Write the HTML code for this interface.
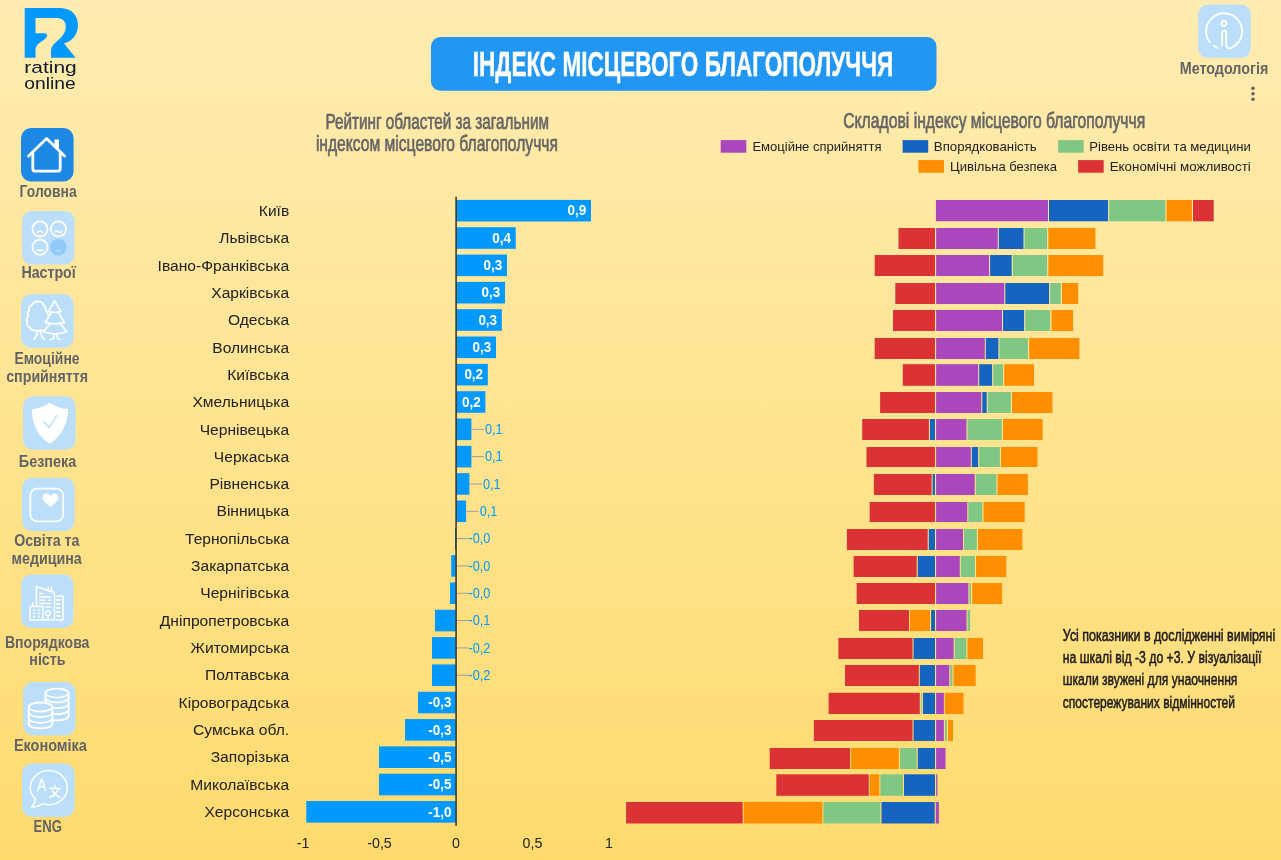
<!DOCTYPE html>
<html lang="uk"><head><meta charset="utf-8"><title>Індекс місцевого благополуччя</title>
<style>html,body{margin:0;padding:0;background:#FFE08A;}body{width:1281px;height:860px;overflow:hidden;}svg{display:block;font-family:'Liberation Sans', sans-serif;}</style>
</head><body>
<svg width="1281" height="860" viewBox="0 0 1281 860">
<defs><linearGradient id="bg" x1="0" y1="0" x2="0" y2="1"><stop offset="0" stop-color="#FFECB2"/><stop offset="1" stop-color="#FFDB6E"/></linearGradient></defs>
<rect width="1281" height="860" fill="url(#bg)"/>
<g id="logo">
<g transform="translate(14,0) scale(0.11628)" fill="#0099FF">
<path d="M92,68 H400 C500,68 550,140 550,215 C550,300 500,355 430,375 L530,497 H318 V440 C318,400 345,375 385,340 C420,310 445,275 445,230 C445,185 420,155 370,155 H185 V285 H262 Q290,287 285,310 Q280,325 255,345 C210,375 185,395 185,430 V497 H92 Z"/>
</g>
<text x="24.3" y="73.2" font-size="16.8" fill="#0d1b2a" textLength="52.4" lengthAdjust="spacingAndGlyphs">rating</text>
<text x="24.3" y="88.5" font-size="16.8" fill="#0d1b2a" textLength="51.4" lengthAdjust="spacingAndGlyphs">online</text>
</g>
<rect x="21" y="128" width="52.6" height="53.5" rx="10" ry="10" fill="#1E88E5"/>
<g fill="none" stroke="#fff" stroke-width="2.8" stroke-linecap="round" stroke-linejoin="round">
<path d="M28.6,156 L46.6,138.6 L64.6,156"/>
<path d="M32.8,153 V168.4 Q32.8,171.2 35.6,171.2 H57.4 Q60.2,171.2 60.2,168.4 V153"/>
</g>
<path d="M54.5,139.6 H59 V152 L54.5,147.5 Z" fill="#fff"/>
<text x="48.1" y="197" font-size="16" fill="#626365" font-weight="bold" text-anchor="middle" textLength="57" lengthAdjust="spacingAndGlyphs">Головна</text>
<rect x="22" y="211" width="52.6" height="53.5" rx="10" ry="10" fill="#BBDEFB"/>
<g fill="none" stroke="#fff" stroke-width="1.7" stroke-linecap="round">
<circle cx="40" cy="228.9" r="7.6"/><circle cx="58.4" cy="228.9" r="7.6"/><circle cx="40" cy="247.2" r="7.6"/>
<path d="M37.2,232.6 Q40,229.6 42.8,232.6"/>
<path d="M55.4,231.8 Q57,230.4 58.6,231.8 T61.6,231.6"/>
<path d="M37,250.4 H43"/>
</g>
<circle cx="58.4" cy="247.2" r="8.3" fill="#90CAF9"/>
<path d="M55.8,250 Q58.4,252.8 61,250" fill="none" stroke="#BBDEFB" stroke-width="1.2" stroke-linecap="round"/>
<text x="48.6" y="278" font-size="16" fill="#626365" font-weight="bold" text-anchor="middle" textLength="54.4" lengthAdjust="spacingAndGlyphs">Настрої</text>
<rect x="21" y="294.3" width="52.6" height="53.5" rx="10" ry="10" fill="#BBDEFB"/>
<g fill="none" stroke="#fff" stroke-width="1.7" stroke-linecap="round" stroke-linejoin="round">
<path d="M47.8,314.6 C47.6,312.6 47,311.2 45.8,310.2 C46,307.8 45,306 43.6,305.2 C42.6,302.6 40.6,301.4 38.4,301.5 C35.6,301.2 33.2,302.8 32,305 C29.8,305.8 28.6,308.2 29.2,310.6 C27.6,312 27.2,314.4 28.2,316.4 C26.6,317.8 26.2,320.4 27.4,322.2 C26.8,324.4 27.8,326.6 29.8,327.4 C30.6,329.4 32.8,330.6 35,330.2 C36.8,331 39,331 40.8,330.4 L43.4,330.8"/>
<path d="M37.6,330.2 C37.4,335 36,337.6 33.6,339.6"/>
<path d="M40.4,330.2 C40.8,335 42.2,337.6 44.4,339.6"/>
<path d="M54.7,300.8 L60.8,311.4 Q54.7,313.2 48.6,311.4 Z"/>
<path d="M51,313 L45.4,322.4 Q54.7,325.4 64.4,322.4 L58.6,313"/>
<path d="M49.4,324.2 L43.6,331.8 Q54.7,335.8 66.8,331.8 L60.6,324.2"/>
<path d="M53.8,334 V337 Q53.6,339 50,339.6"/>
<path d="M57.2,334 V337 Q57.4,339 60.4,339.6"/>
</g>
<text x="47" y="364" font-size="16" fill="#626365" font-weight="bold" text-anchor="middle" textLength="65.2" lengthAdjust="spacingAndGlyphs">Емоційне</text>
<text x="47.1" y="381.7" font-size="16" fill="#626365" font-weight="bold" text-anchor="middle" textLength="81.8" lengthAdjust="spacingAndGlyphs">сприйняття</text>
<rect x="23" y="396.3" width="52.6" height="53.5" rx="10" ry="10" fill="#BBDEFB"/>
<path d="M49.6,402.9 C44,406.4 38,408.6 31.9,409 C32,421 35.6,434.6 49.6,443.8 C63.6,434.6 67.9,421 68.1,409 C61.4,408.6 55.4,406.4 49.6,402.9 Z" fill="#fff"/>
<path d="M43.5,421.8 L49.2,427.6 L56.7,415.3" fill="none" stroke="#BBDEFB" stroke-width="1.4" stroke-linecap="round" stroke-linejoin="round"/>
<text x="47.5" y="467.2" font-size="16" fill="#626365" font-weight="bold" text-anchor="middle" textLength="57.4" lengthAdjust="spacingAndGlyphs">Безпека</text>
<rect x="22" y="477.8" width="52.6" height="53.5" rx="10" ry="10" fill="#BBDEFB"/>
<rect x="30.3" y="488.6" width="32.9" height="32.7" rx="6.8" ry="6.8" fill="none" stroke="#fff" stroke-width="1.7"/>
<path d="M50.4,507 C46,503.8 42.5,500.6 42.5,497.6 C42.5,495.2 44.3,493.6 46.4,493.6 C48,493.6 49.6,494.6 50.4,496 C51.2,494.6 52.8,493.6 54.4,493.6 C56.6,493.6 58.4,495.2 58.4,497.6 C58.4,500.6 54.8,503.8 50.4,507 Z" fill="#fff"/>
<text x="46.8" y="546.2" font-size="16" fill="#626365" font-weight="bold" text-anchor="middle" textLength="65.2" lengthAdjust="spacingAndGlyphs">Освіта та</text>
<text x="46.6" y="564" font-size="16" fill="#626365" font-weight="bold" text-anchor="middle" textLength="70.3" lengthAdjust="spacingAndGlyphs">медицина</text>
<rect x="21" y="574.6" width="52.6" height="53.5" rx="10" ry="10" fill="#BBDEFB"/>
<g fill="none" stroke="#fff" stroke-width="1.5" stroke-linejoin="miter">
<path d="M36.4,606 V586.6 L54.5,592.8 V620.2"/>
<path d="M48.2,586.4 V590.4 M51.4,586.4 V591.6"/>
<path d="M39.2,593.6 H43.7 M39.2,597 H51.4 M39.2,600.2 H45.7 M47.8,600.2 H51.4 M39.2,603.6 H51.4 M45.2,606.9 H51.4"/>
<path d="M29.9,606.6 H42.9 V620 M29.9,606.6 V620.2"/>
<path d="M32.7,602 V606.4"/>
<path d="M29.2,620 H54.5 M56.2,620 H63.5"/>
<circle cx="48" cy="613.2" r="2.3"/><path d="M48,615.6 V620"/>
<path d="M56.4,596 H62.9 V620" stroke-width="1.6"/>
</g>
<g fill="#fff">
<rect x="33" y="609.4" width="2.1" height="1.5"/><rect x="37.8" y="609.4" width="2.1" height="1.5"/>
<rect x="33" y="612.6" width="2.1" height="1.5"/><rect x="37.8" y="612.6" width="2.1" height="1.5"/>
<rect x="33" y="615.8" width="2.1" height="1.5"/><rect x="37.8" y="615.8" width="2.1" height="1.5"/>
<rect x="56.4" y="599" width="4" height="1.9"/>
<rect x="56.4" y="603" width="4" height="1.9"/>
<rect x="56.4" y="607" width="4" height="1.9"/>
<rect x="56.4" y="611" width="4" height="1.9"/>
<rect x="56.4" y="615" width="4" height="1.9"/>
</g>
<text x="47.2" y="647.5" font-size="16" fill="#626365" font-weight="bold" text-anchor="middle" textLength="84.5" lengthAdjust="spacingAndGlyphs">Впорядкова</text>
<text x="47.4" y="664.6" font-size="16" fill="#626365" font-weight="bold" text-anchor="middle" textLength="36.1" lengthAdjust="spacingAndGlyphs">ність</text>
<rect x="23" y="682" width="52.6" height="53.5" rx="10" ry="10" fill="#BBDEFB"/>
<g fill="none" stroke="#fff" stroke-width="1.8" stroke-linecap="round">
<ellipse cx="57" cy="693.1" rx="11.6" ry="4.5"/>
<path d="M45.4,693.1 V702.6 M68.6,693.1 V715.9"/>
<path d="M45.4,698 A11.6,4.5 0 0 0 68.6,698"/>
<path d="M52.9,707.89 A11.6,4.5 0 0 0 68.6,703.7"/>
<path d="M52.9,713.79 A11.6,4.5 0 0 0 68.6,709.6"/>
<path d="M52.9,720.09 A11.6,4.5 0 0 0 68.6,715.9"/>
<ellipse cx="40.5" cy="707" rx="11.8" ry="4.5"/>
<path d="M28.7,707 V724 M52.3,707 V724"/>
<path d="M28.7,712.6 A11.8,4.5 0 0 0 52.3,712.6"/>
<path d="M28.7,718.3 A11.8,4.5 0 0 0 52.3,718.3"/>
<path d="M28.7,724 A11.8,4.5 0 0 0 52.3,724"/>
</g>
<text x="50.4" y="750.9" font-size="16" fill="#626365" font-weight="bold" text-anchor="middle" textLength="73" lengthAdjust="spacingAndGlyphs">Економіка</text>
<rect x="22" y="763.5" width="52.6" height="53.5" rx="10" ry="10" fill="#BBDEFB"/>
<path d="M35.4,798.6 C32,795.6 30.3,791.8 30.3,787.7 C30.3,778.2 38.6,770.6 48.8,770.6 C59,770.6 67.3,778.2 67.3,787.7 C67.3,797.2 59,804.8 48.8,804.8 C46.6,804.8 44.4,804.4 42.5,803.8 C39,805.8 35.4,807 31.6,807.2 C34,804.6 35.2,801.6 35.4,798.6 Z" fill="none" stroke="#fff" stroke-width="1.5" stroke-linejoin="round"/>
<text x="41.7" y="791" font-size="16.4" fill="#fff" text-anchor="middle" textLength="9.4" lengthAdjust="spacingAndGlyphs" stroke="#fff" stroke-width="0.3">A</text>
<text x="55.1" y="796.4" font-size="12.6" fill="#fff" stroke="#fff" stroke-width="0.35" text-anchor="middle" font-family="'Liberation Sans', 'Noto Sans CJK SC', sans-serif">文</text>
<text x="47.7" y="832.4" font-size="16" fill="#626365" font-weight="bold" text-anchor="middle" textLength="28.3" lengthAdjust="spacingAndGlyphs">ENG</text>
<rect x="431" y="36.9" width="505.5" height="53.8" rx="9.5" ry="9.5" fill="#2196F3"/>
<text x="472.8" y="75.7" font-size="34.4" fill="#fff" font-weight="bold" textLength="420.4" lengthAdjust="spacingAndGlyphs" stroke="#fff" stroke-width="0.45" stroke-linejoin="round">ІНДЕКС МІСЦЕВОГО БЛАГОПОЛУЧЧЯ</text>
<rect x="1198.2" y="4.6" width="52.6" height="53.5" rx="10" ry="10" fill="#BBDEFB"/>
<g fill="none" stroke="#fff" stroke-width="1.8" stroke-linecap="round" stroke-linejoin="round">
<path d="M1209.8,42.2 A18,18 0 1 1 1236.8,44 Q1232,48.6 1229,48.4 Q1226.2,48 1226.2,45 V32.6 A2,2 0 0 0 1222.2,32.6 V45.4"/>
<path d="M1213.6,45.6 L1217.7,48"/>
<circle cx="1224" cy="23.4" r="2.4"/>
</g>
<text x="1224" y="73.7" font-size="16" fill="#626365" font-weight="bold" text-anchor="middle" textLength="88.6" lengthAdjust="spacingAndGlyphs">Методологія</text>
<circle cx="1253" cy="88.2" r="1.7" fill="#5f6368"/>
<circle cx="1253" cy="93.8" r="1.7" fill="#5f6368"/>
<circle cx="1253" cy="99.3" r="1.7" fill="#5f6368"/>
<text x="325.4" y="129.0" font-size="21.8" fill="#666" textLength="223.6" lengthAdjust="spacingAndGlyphs" stroke="#666" stroke-width="0.7" stroke-linejoin="round">Рейтинг областей за загальним</text>
<text x="315.9" y="150.9" font-size="21.8" fill="#666" textLength="242" lengthAdjust="spacingAndGlyphs" stroke="#666" stroke-width="0.7" stroke-linejoin="round">індексом місцевого благополуччя</text>
<text x="843.2" y="128.4" font-size="21.8" fill="#666" textLength="302" lengthAdjust="spacingAndGlyphs" stroke="#666" stroke-width="0.7" stroke-linejoin="round">Складові індексу місцевого благополуччя</text>
<rect x="720.6999999999999" y="140.10000000000002" width="25.6" height="12.6" fill="#AB47BC"/>
<text x="752.4000000000001" y="151.10000000000002" font-size="13" fill="#222" textLength="129.2" lengthAdjust="spacingAndGlyphs">Емоційне сприйняття</text>
<rect x="902.5999999999999" y="140.10000000000002" width="25.6" height="12.6" fill="#1565C0"/>
<text x="933.8000000000001" y="151.10000000000002" font-size="13" fill="#222" textLength="102.9" lengthAdjust="spacingAndGlyphs">Впорядкованість</text>
<rect x="1058.1" y="140.10000000000002" width="25.6" height="12.6" fill="#81C784"/>
<text x="1089.3" y="151.10000000000002" font-size="13" fill="#222" textLength="161.5" lengthAdjust="spacingAndGlyphs">Рівень освіти та медицини</text>
<rect x="918.4" y="160.10000000000002" width="25.6" height="12.6" fill="#FF8F00"/>
<text x="950.1" y="171.10000000000002" font-size="13" fill="#222" textLength="107" lengthAdjust="spacingAndGlyphs">Цивільна безпека</text>
<rect x="1078.1" y="160.10000000000002" width="25.6" height="12.6" fill="#DB3236"/>
<text x="1109.7" y="171.10000000000002" font-size="13" fill="#222" textLength="141.1" lengthAdjust="spacingAndGlyphs">Економічні можливості</text>
<g id="chart1">
<rect x="456.0" y="199.9" width="135.0" height="21.6" fill="#0099FF"/>
<text x="289.2" y="215.9" font-size="15.4" fill="#212121" text-anchor="end" textLength="30.4" lengthAdjust="spacingAndGlyphs">Київ</text>
<text x="586.3" y="215.4" font-size="13.9" fill="#fff" font-weight="bold" text-anchor="end" textLength="18.7" lengthAdjust="spacingAndGlyphs">0,9</text>
<rect x="456.0" y="227.22" width="59.7" height="21.6" fill="#0099FF"/>
<text x="289.2" y="243.22" font-size="15.4" fill="#212121" text-anchor="end" textLength="70.0" lengthAdjust="spacingAndGlyphs">Львівська</text>
<text x="511.0" y="242.72" font-size="13.9" fill="#fff" font-weight="bold" text-anchor="end" textLength="18.7" lengthAdjust="spacingAndGlyphs">0,4</text>
<rect x="456.0" y="254.55" width="51.0" height="21.6" fill="#0099FF"/>
<text x="289.2" y="270.55" font-size="15.4" fill="#212121" text-anchor="end" textLength="131.6" lengthAdjust="spacingAndGlyphs">Івано-Франківська</text>
<text x="502.3" y="270.05" font-size="13.9" fill="#fff" font-weight="bold" text-anchor="end" textLength="18.7" lengthAdjust="spacingAndGlyphs">0,3</text>
<rect x="456.0" y="281.88" width="49.0" height="21.6" fill="#0099FF"/>
<text x="289.2" y="297.88" font-size="15.4" fill="#212121" text-anchor="end" textLength="77.9" lengthAdjust="spacingAndGlyphs">Харківська</text>
<text x="500.3" y="297.38" font-size="13.9" fill="#fff" font-weight="bold" text-anchor="end" textLength="18.7" lengthAdjust="spacingAndGlyphs">0,3</text>
<rect x="456.0" y="309.2" width="45.8" height="21.6" fill="#0099FF"/>
<text x="289.2" y="325.2" font-size="15.4" fill="#212121" text-anchor="end" textLength="61.3" lengthAdjust="spacingAndGlyphs">Одеська</text>
<text x="497.1" y="324.7" font-size="13.9" fill="#fff" font-weight="bold" text-anchor="end" textLength="18.7" lengthAdjust="spacingAndGlyphs">0,3</text>
<rect x="456.0" y="336.52" width="40.0" height="21.6" fill="#0099FF"/>
<text x="289.2" y="352.52" font-size="15.4" fill="#212121" text-anchor="end" textLength="76.9" lengthAdjust="spacingAndGlyphs">Волинська</text>
<text x="491.3" y="352.02" font-size="13.9" fill="#fff" font-weight="bold" text-anchor="end" textLength="18.7" lengthAdjust="spacingAndGlyphs">0,3</text>
<rect x="456.0" y="363.85" width="31.8" height="21.6" fill="#0099FF"/>
<text x="289.2" y="379.85" font-size="15.4" fill="#212121" text-anchor="end" textLength="62.0" lengthAdjust="spacingAndGlyphs">Київська</text>
<text x="483.1" y="379.35" font-size="13.9" fill="#fff" font-weight="bold" text-anchor="end" textLength="18.7" lengthAdjust="spacingAndGlyphs">0,2</text>
<rect x="456.0" y="391.18" width="29.4" height="21.6" fill="#0099FF"/>
<text x="289.2" y="407.18" font-size="15.4" fill="#212121" text-anchor="end" textLength="96.8" lengthAdjust="spacingAndGlyphs">Хмельницька</text>
<text x="480.7" y="406.68" font-size="13.9" fill="#fff" font-weight="bold" text-anchor="end" textLength="18.7" lengthAdjust="spacingAndGlyphs">0,2</text>
<rect x="456.0" y="418.5" width="15.4" height="21.6" fill="#0099FF"/>
<text x="289.2" y="434.5" font-size="15.4" fill="#212121" text-anchor="end" textLength="89.5" lengthAdjust="spacingAndGlyphs">Чернівецька</text>
<rect x="471.4" y="428.8" width="12.7" height="1" fill="#9e9e9e"/>
<text x="485.0" y="433.9" font-size="14" fill="#0099FF" textLength="17.7" lengthAdjust="spacingAndGlyphs">0,1</text>
<rect x="456.0" y="445.82" width="15.4" height="21.6" fill="#0099FF"/>
<text x="289.2" y="461.82" font-size="15.4" fill="#212121" text-anchor="end" textLength="75.4" lengthAdjust="spacingAndGlyphs">Черкаська</text>
<rect x="471.4" y="456.12" width="12.7" height="1" fill="#9e9e9e"/>
<text x="485.0" y="461.22" font-size="14" fill="#0099FF" textLength="17.7" lengthAdjust="spacingAndGlyphs">0,1</text>
<rect x="456.0" y="473.15" width="13.4" height="21.6" fill="#0099FF"/>
<text x="289.2" y="489.15" font-size="15.4" fill="#212121" text-anchor="end" textLength="79.8" lengthAdjust="spacingAndGlyphs">Рівненська</text>
<rect x="469.4" y="483.45" width="12.7" height="1" fill="#9e9e9e"/>
<text x="483.0" y="488.55" font-size="14" fill="#0099FF" textLength="17.7" lengthAdjust="spacingAndGlyphs">0,1</text>
<rect x="456.0" y="500.48" width="10.1" height="21.6" fill="#0099FF"/>
<text x="289.2" y="516.48" font-size="15.4" fill="#212121" text-anchor="end" textLength="72.7" lengthAdjust="spacingAndGlyphs">Вінницька</text>
<rect x="466.1" y="510.78" width="12.7" height="1" fill="#9e9e9e"/>
<text x="479.7" y="515.88" font-size="14" fill="#0099FF" textLength="17.7" lengthAdjust="spacingAndGlyphs">0,1</text>
<rect x="455.0" y="527.8" width="1" height="21.6" fill="#0b5ea8"/>
<text x="289.2" y="543.8" font-size="15.4" fill="#212121" text-anchor="end" textLength="104.2" lengthAdjust="spacingAndGlyphs">Тернопільська</text>
<rect x="456.0" y="538.1" width="12.7" height="1" fill="#9e9e9e"/>
<text x="468.4" y="543.2" font-size="14" fill="#0099FF" textLength="22.0" lengthAdjust="spacingAndGlyphs">-0,0</text>
<rect x="451.2" y="555.12" width="4.8" height="21.6" fill="#0099FF"/>
<text x="289.2" y="571.12" font-size="15.4" fill="#212121" text-anchor="end" textLength="98.1" lengthAdjust="spacingAndGlyphs">Закарпатська</text>
<rect x="456.0" y="565.42" width="12.7" height="1" fill="#9e9e9e"/>
<text x="468.4" y="570.52" font-size="14" fill="#0099FF" textLength="22.0" lengthAdjust="spacingAndGlyphs">-0,0</text>
<rect x="450" y="582.45" width="6.0" height="21.6" fill="#0099FF"/>
<text x="289.2" y="598.45" font-size="15.4" fill="#212121" text-anchor="end" textLength="88.9" lengthAdjust="spacingAndGlyphs">Чернігівська</text>
<rect x="456.0" y="592.75" width="12.7" height="1" fill="#9e9e9e"/>
<text x="468.4" y="597.85" font-size="14" fill="#0099FF" textLength="22.0" lengthAdjust="spacingAndGlyphs">-0,0</text>
<rect x="435" y="609.77" width="21.0" height="21.6" fill="#0099FF"/>
<text x="289.2" y="625.77" font-size="15.4" fill="#212121" text-anchor="end" textLength="129.4" lengthAdjust="spacingAndGlyphs">Дніпропетровська</text>
<rect x="456.0" y="620.07" width="12.7" height="1" fill="#9e9e9e"/>
<text x="468.4" y="625.17" font-size="14" fill="#0099FF" textLength="22.0" lengthAdjust="spacingAndGlyphs">-0,1</text>
<rect x="432" y="637.1" width="24.0" height="21.6" fill="#0099FF"/>
<text x="289.2" y="653.1" font-size="15.4" fill="#212121" text-anchor="end" textLength="98.7" lengthAdjust="spacingAndGlyphs">Житомирська</text>
<rect x="456.0" y="647.4" width="12.7" height="1" fill="#9e9e9e"/>
<text x="468.4" y="652.5" font-size="14" fill="#0099FF" textLength="22.0" lengthAdjust="spacingAndGlyphs">-0,2</text>
<rect x="432" y="664.42" width="24.0" height="21.6" fill="#0099FF"/>
<text x="289.2" y="680.42" font-size="15.4" fill="#212121" text-anchor="end" textLength="84.2" lengthAdjust="spacingAndGlyphs">Полтавська</text>
<rect x="456.0" y="674.72" width="12.7" height="1" fill="#9e9e9e"/>
<text x="468.4" y="679.82" font-size="14" fill="#0099FF" textLength="22.0" lengthAdjust="spacingAndGlyphs">-0,2</text>
<rect x="418" y="691.75" width="38.0" height="21.6" fill="#0099FF"/>
<text x="289.2" y="707.75" font-size="15.4" fill="#212121" text-anchor="end" textLength="110.6" lengthAdjust="spacingAndGlyphs">Кіровоградська</text>
<text x="451.4" y="707.25" font-size="13.9" fill="#fff" font-weight="bold" text-anchor="end" textLength="23.2" lengthAdjust="spacingAndGlyphs">-0,3</text>
<rect x="405" y="719.07" width="51.0" height="21.6" fill="#0099FF"/>
<text x="289.2" y="735.07" font-size="15.4" fill="#212121" text-anchor="end" textLength="96.1" lengthAdjust="spacingAndGlyphs">Сумська обл.</text>
<text x="451.4" y="734.57" font-size="13.9" fill="#fff" font-weight="bold" text-anchor="end" textLength="23.2" lengthAdjust="spacingAndGlyphs">-0,3</text>
<rect x="379" y="746.4" width="77.0" height="21.6" fill="#0099FF"/>
<text x="289.2" y="762.4" font-size="15.4" fill="#212121" text-anchor="end" textLength="78.5" lengthAdjust="spacingAndGlyphs">Запорізька</text>
<text x="451.4" y="761.9" font-size="13.9" fill="#fff" font-weight="bold" text-anchor="end" textLength="23.2" lengthAdjust="spacingAndGlyphs">-0,5</text>
<rect x="379" y="773.72" width="77.0" height="21.6" fill="#0099FF"/>
<text x="289.2" y="789.72" font-size="15.4" fill="#212121" text-anchor="end" textLength="99.0" lengthAdjust="spacingAndGlyphs">Миколаївська</text>
<text x="451.4" y="789.22" font-size="13.9" fill="#fff" font-weight="bold" text-anchor="end" textLength="23.2" lengthAdjust="spacingAndGlyphs">-0,5</text>
<rect x="306.3" y="801.05" width="149.7" height="21.6" fill="#0099FF"/>
<text x="289.2" y="817.05" font-size="15.4" fill="#212121" text-anchor="end" textLength="84.8" lengthAdjust="spacingAndGlyphs">Херсонська</text>
<text x="451.4" y="816.55" font-size="13.9" fill="#fff" font-weight="bold" text-anchor="end" textLength="23.2" lengthAdjust="spacingAndGlyphs">-1,0</text>
<rect x="455.2" y="196.8" width="1.8" height="629" fill="#3d3a2e" fill-opacity="0.88"/>
<text x="303.0" y="847.9" font-size="15" fill="#212121" text-anchor="middle" textLength="12.7" lengthAdjust="spacingAndGlyphs">-1</text>
<text x="379.5" y="847.9" font-size="15" fill="#212121" text-anchor="middle" textLength="24.6" lengthAdjust="spacingAndGlyphs">-0,5</text>
<text x="456.0" y="847.9" font-size="15" fill="#212121" text-anchor="middle" textLength="7.9" lengthAdjust="spacingAndGlyphs">0</text>
<text x="532.5" y="847.9" font-size="15" fill="#212121" text-anchor="middle" textLength="19.8" lengthAdjust="spacingAndGlyphs">0,5</text>
<text x="609.0" y="847.9" font-size="15" fill="#212121" text-anchor="middle" textLength="7.9" lengthAdjust="spacingAndGlyphs">1</text>
</g>
<g id="chart2">
<rect x="935.9" y="200" width="112.1" height="21.3" fill="#AB47BC"/>
<rect x="1049.0" y="200" width="59.1" height="21.3" fill="#1565C0"/>
<rect x="1109.2" y="200" width="56.2" height="21.3" fill="#81C784"/>
<rect x="1166.5" y="200" width="25.4" height="21.3" fill="#FF8F00"/>
<rect x="1193.0" y="200" width="20.7" height="21.3" fill="#DB3236"/>
<rect x="898.5" y="228" width="36.5" height="21" fill="#DB3236"/>
<rect x="936.1" y="228" width="61.6" height="21" fill="#AB47BC"/>
<rect x="998.8" y="228" width="24.7" height="21" fill="#1565C0"/>
<rect x="1024.5" y="228" width="22.7" height="21" fill="#81C784"/>
<rect x="1048.3" y="228" width="47.1" height="21" fill="#FF8F00"/>
<rect x="874.7" y="255" width="60.3" height="21" fill="#DB3236"/>
<rect x="936.1" y="255" width="53.0" height="21" fill="#AB47BC"/>
<rect x="990.1" y="255" width="21.6" height="21" fill="#1565C0"/>
<rect x="1012.8" y="255" width="34.4" height="21" fill="#81C784"/>
<rect x="1048.3" y="255" width="54.9" height="21" fill="#FF8F00"/>
<rect x="895.3" y="283" width="39.7" height="21" fill="#DB3236"/>
<rect x="936.1" y="283" width="68.2" height="21" fill="#AB47BC"/>
<rect x="1005.3" y="283" width="43.8" height="21" fill="#1565C0"/>
<rect x="1050.2" y="283" width="10.6" height="21" fill="#81C784"/>
<rect x="1062.0" y="283" width="16.2" height="21" fill="#FF8F00"/>
<rect x="893.0" y="310" width="42.0" height="21" fill="#DB3236"/>
<rect x="936.1" y="310" width="65.9" height="21" fill="#AB47BC"/>
<rect x="1003.0" y="310" width="21.1" height="21" fill="#1565C0"/>
<rect x="1025.2" y="310" width="25.1" height="21" fill="#81C784"/>
<rect x="1051.5" y="310" width="21.6" height="21" fill="#FF8F00"/>
<rect x="874.7" y="338" width="60.3" height="21" fill="#DB3236"/>
<rect x="936.1" y="338" width="48.7" height="21" fill="#AB47BC"/>
<rect x="985.8" y="338" width="12.6" height="21" fill="#1565C0"/>
<rect x="999.5" y="338" width="28.5" height="21" fill="#81C784"/>
<rect x="1029.1" y="338" width="50.3" height="21" fill="#FF8F00"/>
<rect x="902.8" y="364.2" width="32.2" height="21.6" fill="#DB3236"/>
<rect x="936.1" y="364.2" width="42.1" height="21.6" fill="#AB47BC"/>
<rect x="979.2" y="364.2" width="12.9" height="21.6" fill="#1565C0"/>
<rect x="993.2" y="364.2" width="9.9" height="21.6" fill="#81C784"/>
<rect x="1004.2" y="364.2" width="29.8" height="21.6" fill="#FF8F00"/>
<rect x="880.1" y="392" width="54.9" height="21" fill="#DB3236"/>
<rect x="936.1" y="392" width="45.2" height="21" fill="#AB47BC"/>
<rect x="982.3" y="392" width="4.4" height="21" fill="#1565C0"/>
<rect x="987.8" y="392" width="23.1" height="21" fill="#81C784"/>
<rect x="1012.0" y="392" width="40.5" height="21" fill="#FF8F00"/>
<rect x="862.2" y="419" width="66.7" height="21" fill="#DB3236"/>
<rect x="929.9" y="419" width="5.1" height="21" fill="#1565C0"/>
<rect x="936.1" y="419" width="30.4" height="21" fill="#AB47BC"/>
<rect x="967.5" y="419" width="34.4" height="21" fill="#81C784"/>
<rect x="1003.0" y="419" width="39.7" height="21" fill="#FF8F00"/>
<rect x="866.5" y="447" width="68.5" height="20" fill="#DB3236"/>
<rect x="936.1" y="447" width="34.7" height="20" fill="#AB47BC"/>
<rect x="971.8" y="447" width="6.3" height="20" fill="#1565C0"/>
<rect x="979.2" y="447" width="20.7" height="20" fill="#81C784"/>
<rect x="1001.0" y="447" width="36.5" height="20" fill="#FF8F00"/>
<rect x="873.9" y="474" width="57.7" height="21" fill="#DB3236"/>
<rect x="932.6" y="474" width="2.4" height="21" fill="#1565C0"/>
<rect x="936.1" y="474" width="38.6" height="21" fill="#AB47BC"/>
<rect x="975.8" y="474" width="20.7" height="21" fill="#81C784"/>
<rect x="997.5" y="474" width="30.4" height="21" fill="#FF8F00"/>
<rect x="869.6" y="502" width="65.4" height="20" fill="#DB3236"/>
<rect x="936.1" y="502" width="31.2" height="20" fill="#AB47BC"/>
<rect x="968.3" y="502" width="14.1" height="20" fill="#81C784"/>
<rect x="983.5" y="502" width="41.2" height="20" fill="#FF8F00"/>
<rect x="846.9" y="529" width="80.8" height="21" fill="#DB3236"/>
<rect x="928.8" y="529" width="6.2" height="21" fill="#1565C0"/>
<rect x="936.1" y="529" width="26.9" height="21" fill="#AB47BC"/>
<rect x="964.0" y="529" width="12.9" height="21" fill="#81C784"/>
<rect x="978.0" y="529" width="44.4" height="21" fill="#FF8F00"/>
<rect x="853.6" y="556" width="63.1" height="21" fill="#DB3236"/>
<rect x="917.8" y="556" width="17.2" height="21" fill="#1565C0"/>
<rect x="936.1" y="556" width="23.7" height="21" fill="#AB47BC"/>
<rect x="960.8" y="556" width="14.2" height="21" fill="#81C784"/>
<rect x="976.1" y="556" width="30.2" height="21" fill="#FF8F00"/>
<rect x="856.7" y="583" width="78.3" height="21" fill="#DB3236"/>
<rect x="936.1" y="583" width="32.3" height="21" fill="#AB47BC"/>
<rect x="969.4" y="583" width="1.7" height="21" fill="#81C784"/>
<rect x="972.2" y="583" width="29.9" height="21" fill="#FF8F00"/>
<rect x="859.0" y="610" width="50.0" height="21" fill="#DB3236"/>
<rect x="910.0" y="610" width="20.0" height="21" fill="#FF8F00"/>
<rect x="931.1" y="610" width="3.9" height="21" fill="#1565C0"/>
<rect x="936.1" y="610" width="30.4" height="21" fill="#AB47BC"/>
<rect x="967.5" y="610" width="2.6" height="21" fill="#81C784"/>
<rect x="838.4" y="638" width="74.1" height="21" fill="#DB3236"/>
<rect x="913.5" y="638" width="21.5" height="21" fill="#1565C0"/>
<rect x="936.1" y="638" width="17.5" height="21" fill="#AB47BC"/>
<rect x="954.6" y="638" width="11.8" height="21" fill="#81C784"/>
<rect x="967.5" y="638" width="15.5" height="21" fill="#FF8F00"/>
<rect x="845.0" y="665" width="73.8" height="21" fill="#DB3236"/>
<rect x="919.8" y="665" width="15.2" height="21" fill="#1565C0"/>
<rect x="936.1" y="665" width="13.2" height="21" fill="#AB47BC"/>
<rect x="950.3" y="665" width="2.1" height="21" fill="#81C784"/>
<rect x="953.5" y="665" width="22.1" height="21" fill="#FF8F00"/>
<rect x="828.6" y="692.8" width="91.2" height="21.2" fill="#DB3236"/>
<rect x="920.9" y="692.8" width="0.9" height="21.2" fill="#81C784"/>
<rect x="922.9" y="692.8" width="12.1" height="21.2" fill="#1565C0"/>
<rect x="936.1" y="692.8" width="7.8" height="21.2" fill="#AB47BC"/>
<rect x="944.9" y="692.8" width="18.6" height="21.2" fill="#FF8F00"/>
<rect x="813.8" y="720" width="98.7" height="21" fill="#DB3236"/>
<rect x="913.5" y="720" width="21.5" height="21" fill="#1565C0"/>
<rect x="936.1" y="720" width="7.8" height="21" fill="#AB47BC"/>
<rect x="944.9" y="720" width="2.0" height="21" fill="#81C784"/>
<rect x="948.0" y="720" width="5.0" height="21" fill="#FF8F00"/>
<rect x="769.7" y="748" width="80.4" height="21" fill="#DB3236"/>
<rect x="851.1" y="748" width="47.7" height="21" fill="#FF8F00"/>
<rect x="899.9" y="748" width="16.8" height="21" fill="#81C784"/>
<rect x="917.8" y="748" width="17.2" height="21" fill="#1565C0"/>
<rect x="936.1" y="748" width="9.4" height="21" fill="#AB47BC"/>
<rect x="776.3" y="774.3" width="92.5" height="21.5" fill="#DB3236"/>
<rect x="869.8" y="774.3" width="9.5" height="21.5" fill="#FF8F00"/>
<rect x="880.4" y="774.3" width="22.5" height="21.5" fill="#81C784"/>
<rect x="904.0" y="774.3" width="31.0" height="21.5" fill="#1565C0"/>
<rect x="936.1" y="774.3" width="1.3" height="21.5" fill="#AB47BC"/>
<rect x="626.1" y="802" width="116.6" height="21.5" fill="#DB3236"/>
<rect x="743.8" y="802" width="78.6" height="21.5" fill="#FF8F00"/>
<rect x="823.4" y="802" width="57.0" height="21.5" fill="#81C784"/>
<rect x="881.5" y="802" width="53.2" height="21.5" fill="#1565C0"/>
<rect x="935.8" y="802" width="3.1" height="21.5" fill="#AB47BC"/>
</g>
<text x="1062.8" y="640.5" font-size="16.4" fill="#1c1c1c" textLength="212.4" lengthAdjust="spacingAndGlyphs" stroke="#1c1c1c" stroke-width="0.55" stroke-linejoin="round">Усі показники в дослідженні виміряні</text>
<text x="1062.8" y="663.1" font-size="16.4" fill="#1c1c1c" textLength="198.6" lengthAdjust="spacingAndGlyphs" stroke="#1c1c1c" stroke-width="0.55" stroke-linejoin="round">на шкалі від -3 до +3. У візуалізації</text>
<text x="1062.8" y="685.3" font-size="16.4" fill="#1c1c1c" textLength="174.6" lengthAdjust="spacingAndGlyphs" stroke="#1c1c1c" stroke-width="0.55" stroke-linejoin="round">шкали звужені для унаочнення</text>
<text x="1062.8" y="708.0" font-size="16.4" fill="#1c1c1c" textLength="172.2" lengthAdjust="spacingAndGlyphs" stroke="#1c1c1c" stroke-width="0.55" stroke-linejoin="round">спостережуваних відмінностей</text>
</svg></body></html>
